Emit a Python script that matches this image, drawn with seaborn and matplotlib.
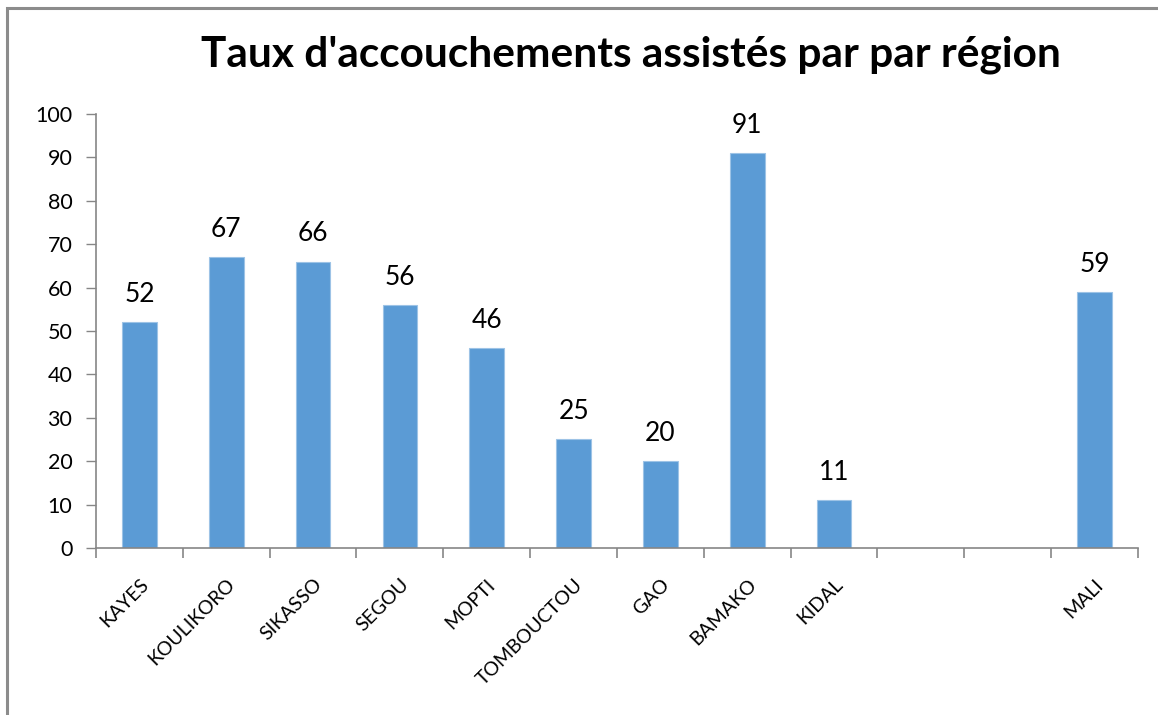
import numpy as np
import pandas as pd
import matplotlib.pyplot as plt
import seaborn as sns
from matplotlib.patches import Rectangle

# données
regions = ["KAYES", "KOULIKORO", "SIKASSO", "SEGOU", "MOPTI", "TOMBOUCTOU",
           "GAO", "BAMAKO", "KIDAL", "_vide1", "_vide2", "MALI"]
taux = [52, 67, 66, 56, 46, 25, 20, 91, 11, np.nan, np.nan, 59]
etiquettes = [r if not r.startswith("_") else "" for r in regions]

df = pd.DataFrame({"Region": regions, "Taux": taux})

sns.set_style("white")
plt.rcParams["font.family"] = ["Lato", "DejaVu Sans"]

gris = "#868686"
fig = plt.figure(figsize=(11.58, 7.15), dpi=100)
ax = fig.add_axes([0.0829, 0.2336, 0.8998, 0.607])

sns.barplot(data=df, x="Region", y="Taux", order=regions, color="#5B9BD5",
            saturation=1, width=0.40, edgecolor="#9DC3E6", linewidth=0.8, ax=ax)

# étiquettes de valeurs
for i, v in enumerate(taux):
    if not np.isnan(v):
        ax.annotate(f"{v:.0f}", (i, v), xytext=(0, 14.5), textcoords="offset points",
                    ha="center", va="baseline", fontsize=19, color="black")

ax.set_xlim(-0.5, len(regions) - 0.5)
ax.set_ylim(0, 100)
ax.set_yticks(range(0, 101, 10))
ax.tick_params(axis="y", left=True, labelsize=15.5, length=7, color=gris,
               width=1, pad=10, labelcolor="black")

ax.set_xticks(range(len(regions)))
ax.set_xticklabels(etiquettes, rotation=45, ha="right", rotation_mode="anchor",
                   fontsize=14, color="black")
ax.tick_params(axis="x", which="major", bottom=True, length=0, pad=20)
ax.set_xticks(np.arange(-0.5, len(regions)), minor=True)
ax.tick_params(axis="x", which="minor", bottom=True, length=7, color=gris, width=1.2)
for lab in ax.get_xticklabels():
    lab.set_x(lab.get_position()[0] + 0.08)

ax.set_xlabel("")
ax.set_ylabel("")
for s in ["top", "right"]:
    ax.spines[s].set_visible(False)
for s in ["left", "bottom"]:
    ax.spines[s].set_color(gris)
    ax.spines[s].set_linewidth(1.2)

fig.text(0.545, 0.923, "Taux d'accouchements assistés par par région",
         ha="center", va="center", fontsize=30.5, fontweight="bold", color="black")

# cadre du graphique
fig.patches.append(Rectangle((0.006, -0.05), 1.1, 1.039, transform=fig.transFigure,
                             fill=False, edgecolor="#8C8C8C", linewidth=2.2))

fig.savefig("out.png", dpi=100)
